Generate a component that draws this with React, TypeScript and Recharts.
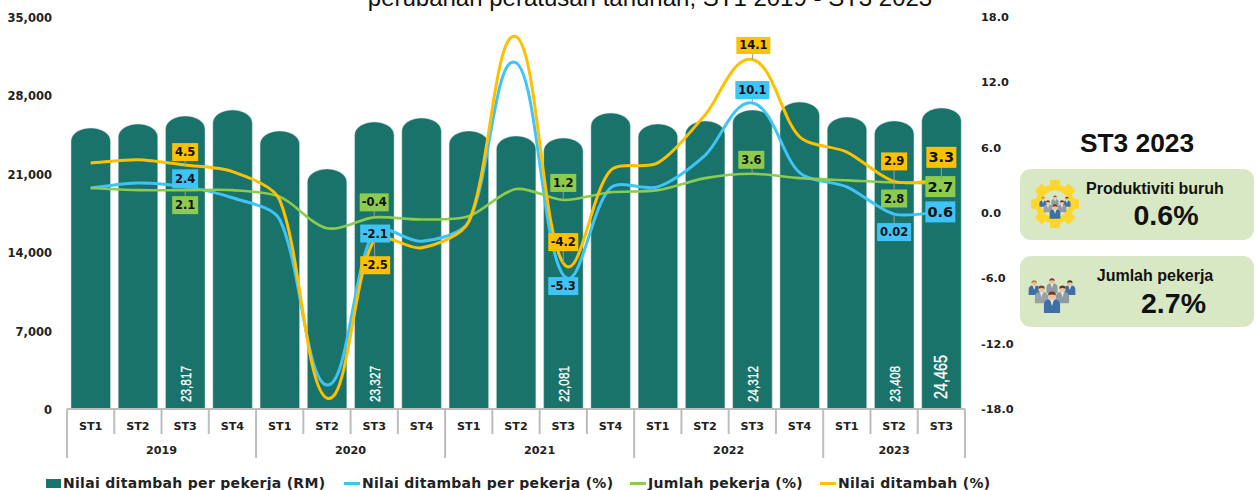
import React from 'react';
import { ComposedChart, Bar, Line, XAxis, YAxis, Legend, LabelList } from 'recharts';

const quarters = ['ST1','ST2','ST3','ST4','ST1','ST2','ST3','ST4','ST1','ST2','ST3','ST4','ST1','ST2','ST3','ST4','ST1','ST2','ST3'];
const years = [2019,2019,2019,2019,2020,2020,2020,2020,2021,2021,2021,2021,2022,2022,2022,2022,2023,2023,2023];
const valuePerWorker = [25090,25450,26160,26700,24820,21430,25630,25980,24820,24380,24200,26430,25450,25720,26700,27410,26070,25720,26880];
const barLabels = [null,null,'23,817',null,null,null,'23,327',null,null,null,'22,081',null,null,null,'24,312',null,null,'23,408','24,465'];
const productivityPct = [2.3,2.75,2.4,1.4,-0.6,-15.8,-1.7,-2.6,-0.8,13.8,-5.7,2.3,2.4,5.3,10.1,3.7,2.4,-0.1,0.1];
const employmentPct = [2.3,2.1,2.1,2.1,1.5,-1.4,-0.4,-0.6,-0.3,2.2,1.2,1.9,2.1,3.2,3.6,3.2,3.0,2.8,2.7];
const addedValuePct = [4.6,4.9,4.4,3.8,1.2,-17,-2.5,-3.2,-0.8,16.2,-4.6,3.9,4.6,9,14.1,7,5.6,2.9,3.0];
const productivityLabels: Record<number,string> = {2:'2.4',6:'-2.1',10:'-5.3',14:'10.1',17:'0.02',18:'0.6'};
const employmentLabels: Record<number,string> = {2:'2.1',6:'-0.4',10:'1.2',14:'3.6',17:'2.8',18:'2.7'};
const addedValueLabels: Record<number,string> = {2:'4.5',6:'-2.5',10:'-4.2',14:'14.1',17:'2.9',18:'3.3'};
const leftTicks = [0,7000,14000,21000,28000,35000];
const rightTicks = [-18,-12,-6,0,6,12,18];
const seriesOrder = ['Nilai ditambah per pekerja (RM)','Nilai ditambah per pekerja (%)','Jumlah pekerja (%)','Nilai ditambah (%)'];

const data = quarters.map((quarter,i)=>({
  quarter, year: years[i], valuePerWorker: valuePerWorker[i], productivityPct: productivityPct[i],
  employmentPct: employmentPct[i], addedValuePct: addedValuePct[i],
}));

const TEAL='#19736A', BLUE='#40C4F8', GREEN='#8CCB4E', ORANGE='#FFC000';
const AXIS_FONT='"DejaVu Sans", sans-serif';
const STEP=898/19;

// label placement: centre offset from the point, box size
const productivityPlace: Record<number,number[]> = {2:[0,-8,26,19],6:[1,2,30,18],10:[0,11,30,18],14:[0,-13,34,18],17:[0,18,34,18],18:[-1,0,30,21]};
const employmentPlace: Record<number,number[]> = {2:[0,15,26,18],6:[0,-15,29,18],10:[0,-17,26,18],14:[-1,-14,26,18],17:[0,16,26,18],18:[-1,3,30,21]};
const addedValuePlace: Record<number,number[]> = {2:[0,-13,26,18],6:[1,25,30,18],10:[0,-21,30,18],14:[1,-14,34,17],17:[0,-20,26,18],18:[0,-23,30,21]};

function smoothCurve(context:any){
  let pts:number[][]=[];
  return {
    areaStart(){},areaEnd(){},
    lineStart(){pts=[];},
    point(x:number,y:number){pts.push([+x,+y]);},
    lineEnd(){
      if(!pts.length)return;
      const tangent=(i:number)=>{
        const a=pts[Math.max(i-1,0)],b=pts[Math.min(i+1,pts.length-1)];
        const dx=b[0]-a[0],dy=b[1]-a[1],len=Math.hypot(dx,dy)||1;
        return [dx/len,dy/len];
      };
      const ctrl=(i:number,j:number)=>{
        const p=pts[i],q=pts[j],t=tangent(i),sign=j>i?1:-1;
        const d=Math.hypot(q[0]-p[0],q[1]-p[1]);
        let len=d*0.28;
        const maxDx=Math.abs(q[0]-p[0])*0.45;
        if(Math.abs(t[0])*len>maxDx) len=maxDx/Math.abs(t[0]);
        return [p[0]+sign*t[0]*len,p[1]+sign*t[1]*len];
      };
      context.moveTo(pts[0][0],pts[0][1]);
      for(let i=0;i<pts.length-1;i++){
        const c1=ctrl(i,i+1),c2=ctrl(i+1,i);
        context.bezierCurveTo(c1[0],c1[1],c2[0],c2[1],pts[i+1][0],pts[i+1][1]);
      }
    },
  };
}

const DomeBar=(p:any)=>{
  const {x,y,width,height}=p;
  const ry=13;
  return <path d={`M${x},${y+height}V${y+ry}A${width/2},${ry} 0 0 1 ${x+width},${y+ry}V${y+height}Z`} fill={TEAL} stroke="#cfe0dc" strokeWidth={0.5}/>;
};

const makeBoxLabel=(texts:Record<number,string>,places:Record<number,number[]>,fill:string)=>(p:any)=>{
  const {x,y,index}=p;
  const t=texts[index]; if(t==null) return null;
  const [dx,dy,w,h]=places[index];
  const cx=x+dx,cy=y+dy;
  const big=index===18;
  return <g>
    <line x1={x} y1={y} x2={cx} y2={cy} stroke="#9a9a9a" strokeWidth={1}/>
    <rect x={cx-w/2} y={cy-h/2} width={w} height={h} fill={fill}/>
    <text x={cx} y={cy} textAnchor="middle" dominantBaseline="central" fontFamily={AXIS_FONT} fontWeight={700} fontSize={big?14.5:11.5} fill="#111">{t}</text>
  </g>;
};

const BarValue=(p:any)=>{
  const {x,y,width,height,index}=p;
  const t=barLabels[index]; if(!t) return null;
  const big=index===18;
  const cx=x+width/2, by=y+height-(big?10:7);
  return <text transform={`rotate(-90 ${cx} ${by})`} x={cx} y={by} dominantBaseline="central" textAnchor="start" textLength={big?44:36} lengthAdjust="spacingAndGlyphs" fontFamily='"Liberation Sans",sans-serif' fontSize={big?17.5:15} fill="#fff" stroke="#fff" strokeWidth={0.3}>{t}</text>;
};

const CategoryTick=(p:any)=>{
  const {x,y,index,payload}=p;
  const first=index%4===0;
  const left=x-STEP/2,right=x+STEP/2;
  const yr=years[index];
  const members=years.map((v,i)=>v===yr?i:-1).filter(i=>i>=0);
  const middle=members[Math.floor((members.length-1)/2)]===index;
  const yearX=members.length%2===0?right:x;
  return <g>
    <line x1={left} x2={left} y1={y} y2={y+(first?49:25)} stroke="#bdbdbd" strokeWidth={2}/>
    {index===quarters.length-1&&<line x1={right} x2={right} y1={y} y2={y+49} stroke="#bdbdbd" strokeWidth={2}/>}
    <text x={x} y={y+17} textAnchor="middle" dominantBaseline="central" fontFamily={AXIS_FONT} fontWeight={700} fontSize={11.2} fill="#222">{payload.value}</text>
    {middle&&<text x={yearX} y={y+41} textAnchor="middle" dominantBaseline="central" fontFamily={AXIS_FONT} fontWeight={700} fontSize={11.2} fill="#222">{yr}</text>}
  </g>;
};

const LegendRow=(p:any)=>{
  const all=(p.payload||[]).filter((it:any)=>it.type!=='none');
  const items=seriesOrder.map(n=>all.find((it:any)=>it.value===n)).filter(Boolean);
  const lefts=[46,344,630,820];
  return <div style={{position:'relative',width:1256,height:20}}>
    {items.map((it:any,i:number)=><div key={i} style={{position:'absolute',left:lefts[i],top:0,display:'flex',alignItems:'center',height:20,whiteSpace:'nowrap'}}>
      {i===0
        ?<span style={{display:'inline-block',width:15,height:9,background:TEAL,marginRight:2}}/>
        :<span style={{display:'inline-block',width:16,height:3,background:it.color,marginRight:2}}/>}
      <span style={{fontFamily:AXIS_FONT,fontWeight:700,fontSize:14,letterSpacing:0.3,color:'#222'}}>{it.value}</span>
    </div>)}
  </div>;
};

const Person=({x,y,s=1,suit='#3F6FA3',hair='#6b4a2f'}:any)=><g transform={`translate(${x} ${y}) scale(${s})`}>
  <path d="M-7,12V5Q-7,1 -3,0L0,2L3,0Q7,1 7,5V12Z" fill={suit}/>
  <path d="M-1.5,0.5L0,6L1.5,0.5Z" fill="#e8eef2"/>
  <circle cx={0} cy={-3} r={3.4} fill="#eac3a0"/>
  <path d="M-3.4,-3.4A3.4,3.4 0 0 1 3.4,-3.4Q0,-5 -3.4,-3.4Z" fill={hair}/>
</g>;
const Crew=({x,y,s=1}:any)=><g transform={`translate(${x} ${y}) scale(${s})`}>
  <Person x={-17} y={-8} s={0.75} hair="#b0893a"/>
  <Person x={0} y={-10} s={0.75} suit="#8f9aa5" hair="#7a3b2a"/>
  <Person x={17} y={-8} s={0.75} hair="#4a3526"/>
  <Person x={-10} y={-2} s={0.9} suit="#98a0a8"/>
  <Person x={10} y={-2} s={0.9} suit="#8f9aa5" hair="#5a3a2a"/>
  <Person x={0} y={5} s={1.1} hair="#6e3524"/>
</g>;
const Gear=({x,y}:any)=><g transform={`translate(${x} ${y})`}>
  {[0,45,90,135,180,225,270,315].map(a=><rect key={a} x={-5} y={-24} width={10} height={9} rx={1.5} fill="#FFD62E" transform={`rotate(${a})`}/>)}
  <circle r={16.5} fill="none" stroke="#FFD62E" strokeWidth={6}/>
</g>;

const overlayText={fontFamily:'"Liberation Sans",Arial,sans-serif',fontWeight:700,fill:'#111'} as const;

export default function App(){
  return <div style={{position:'absolute',left:0,top:0,width:1256,height:490,overflow:'hidden',background:'#fff'}}>
    <ComposedChart width={1256} height={490} data={data} margin={{top:17,left:7,right:231,bottom:11}}>
      <XAxis dataKey="quarter" interval={0} height={50} tickLine={false} tickSize={0} tickMargin={0} axisLine={{stroke:'#bdbdbd',strokeWidth:2}} tick={<CategoryTick/>}/>
      <YAxis yAxisId="l" domain={[0,35000]} ticks={leftTicks} width={60} axisLine={false} tickLine={false} tickSize={0} tickMargin={15} dy={1}
        tickFormatter={(v:number)=>v.toLocaleString('en-US')} tick={{fontFamily:AXIS_FONT,fontWeight:700,fontSize:11.5,fill:'#222'}}/>
      <YAxis yAxisId="r" orientation="right" domain={[-18,18]} ticks={rightTicks} width={60} axisLine={false} tickLine={false} tickSize={0} tickMargin={16}
        tickFormatter={(v:number)=>v.toFixed(1)} tick={{fontFamily:AXIS_FONT,fontWeight:700,fontSize:11.3,fill:'#222'}}/>
      <Legend verticalAlign="bottom" height={20} content={<LegendRow/>} wrapperStyle={{left:0,top:473,width:1256,height:20}}/>
      <Bar yAxisId="l" dataKey="valuePerWorker" name="Nilai ditambah per pekerja (RM)" fill={TEAL} barSize={39.5} shape={<DomeBar/>} isAnimationActive={false}>
        <LabelList content={<BarValue/>}/>
      </Bar>
      <Line yAxisId="r" dataKey="productivityPct" name="Nilai ditambah per pekerja (%)" stroke={BLUE} strokeWidth={3} dot={false} type={smoothCurve as any} isAnimationActive={false}/>
      <Line yAxisId="r" dataKey="employmentPct" name="Jumlah pekerja (%)" stroke={GREEN} strokeWidth={2.6} dot={false} type={smoothCurve as any} isAnimationActive={false}/>
      <Line yAxisId="r" dataKey="addedValuePct" name="Nilai ditambah (%)" stroke={ORANGE} strokeWidth={3} dot={false} type={smoothCurve as any} isAnimationActive={false}/>
      <Line yAxisId="r" dataKey="productivityPct" stroke="none" dot={false} legendType="none" isAnimationActive={false}>
        <LabelList content={makeBoxLabel(productivityLabels,productivityPlace,BLUE)}/>
      </Line>
      <Line yAxisId="r" dataKey="employmentPct" stroke="none" dot={false} legendType="none" isAnimationActive={false}>
        <LabelList content={makeBoxLabel(employmentLabels,employmentPlace,GREEN)}/>
      </Line>
      <Line yAxisId="r" dataKey="addedValuePct" stroke="none" dot={false} legendType="none" isAnimationActive={false}>
        <LabelList content={makeBoxLabel(addedValueLabels,addedValuePlace,ORANGE)}/>
      </Line>
    </ComposedChart>
    <svg width={1256} height={490} style={{position:'absolute',left:0,top:0,pointerEvents:'none'}}>
      <text x={650} y={5.5} textAnchor="middle" fontFamily='"Liberation Sans",Arial,sans-serif' fontSize={24} fill="#111">perubahan peratusan tahunan, ST1 2019 - ST3 2023</text>
      <text x={1137} y={152} textAnchor="middle" fontSize={26.3} {...overlayText}>ST3 2023</text>
      <rect x={1020} y={169} width={234} height={71} rx={11} fill="#D8E8C4"/>
      <rect x={1020} y={256} width={234} height={71} rx={11} fill="#D8E8C4"/>
      <Gear x={1055} y={204}/>
      <Crew x={1055} y={206} s={0.7}/>
      <Crew x={1052} y={294} s={1.05}/>
      <text x={1155} y={194} textAnchor="middle" fontSize={16} {...overlayText}>Produktiviti buruh</text>
      <text x={1166} y={225} textAnchor="middle" fontSize={28.5} {...overlayText}>0.6%</text>
      <text x={1155} y={281} textAnchor="middle" fontSize={16} {...overlayText}>Jumlah pekerja</text>
      <text x={1173.5} y={313} textAnchor="middle" fontSize={28.5} {...overlayText}>2.7%</text>
    </svg>
  </div>;
}
